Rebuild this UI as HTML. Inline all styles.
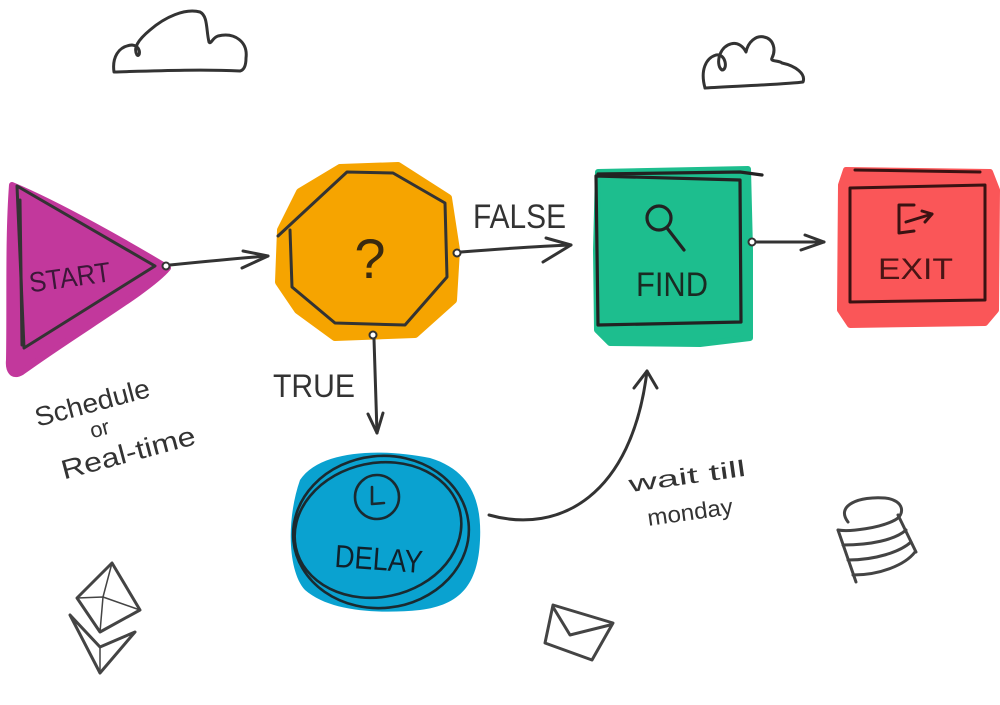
<!DOCTYPE html>
<html><head><meta charset="utf-8"><style>
html,body{margin:0;padding:0;background:#fff;}
svg{display:block;}
text{font-family:"Liberation Sans Narrow","Liberation Sans",sans-serif;}
</style></head><body>
<svg width="1000" height="705" viewBox="0 0 1000 705" xmlns="http://www.w3.org/2000/svg">
<g fill="none" stroke="#333" stroke-width="3" stroke-linecap="round" stroke-linejoin="round">
  <!-- clouds -->
  <path d="M114,72 C112,58 118,46 132,45 C142,46 140,58 137,55 C133,48 138,40 150,30 C165,17 185,8 200,12 C208,16 206,30 209,42 C211,45 212,38 218,36 C235,32 248,42 246,58 C246,66 244,70 240,71 C200,69 150,71 114,72 Z"/>
  <path d="M705,88 C700,70 706,58 716,55 C726,53 728,70 722,70 C716,66 718,50 728,45 C738,40 744,48 746,52 C748,42 756,35 764,37 C774,39 776,50 772,58 C770,62 778,60 782,63 C796,66 806,74 803,82 C790,84 740,86 705,88"/>
</g>

<!-- START fill -->
<path d="M12,185 C60,205 130,245 168,268 C150,290 80,330 22,372 C12,378 8,370 9,360 C10,300 8,240 12,185 Z" fill="#c2389c" stroke="#c2389c" stroke-width="6" stroke-linejoin="round"/>
<g fill="none" stroke="#333" stroke-width="3" stroke-linecap="round" stroke-linejoin="round">
  <path d="M17,186 L155,266 L24,348 Z"/>
  <path d="M20,200 L22,345"/>
</g>
<text x="28" y="287" font-size="28" fill="#3c1738" textLength="82" lengthAdjust="spacingAndGlyphs" transform="rotate(-8 68 272)">START</text>

<!-- connector start -> octagon -->
<g fill="none" stroke="#333" stroke-width="3" stroke-linecap="round" stroke-linejoin="round">
  <circle cx="166" cy="266" r="3.5" fill="#fff" stroke-width="2"/>
  <path d="M170,265 C200,262 240,258 268,256"/>
  <path d="M243,251 L268,256 L242,268"/>
</g>

<!-- octagon fill -->
<path d="M340,168 L398,166 L448,198 L456,250 L453,300 L415,334 L335,337 L298,310 L279,282 L281,230 L300,192 Z" fill="#f6a400" stroke="#f6a400" stroke-width="8" stroke-linejoin="round"/>
<g fill="none" stroke="#333" stroke-width="3" stroke-linecap="round" stroke-linejoin="round">
  <path d="M278,236 L347,172 L393,173 L445,203 L447,277 L405,325 L335,323 L292,287 L290,230"/>
</g>
<text x="370" y="278" font-size="56" fill="#3a2a10" text-anchor="middle" font-family="Liberation Sans, sans-serif">?</text>

<!-- FALSE connector -->
<g fill="none" stroke="#333" stroke-width="3" stroke-linecap="round" stroke-linejoin="round">
  <circle cx="457" cy="253" r="3.5" fill="#fff" stroke-width="2"/>
  <path d="M461,252 C500,249 540,246 571,245"/>
  <path d="M546,238 L571,245 L543,262"/>
</g>
<text x="473" y="228" font-size="34" fill="#333" textLength="93" lengthAdjust="spacingAndGlyphs">FALSE</text>

<!-- TRUE connector -->
<g fill="none" stroke="#333" stroke-width="3" stroke-linecap="round" stroke-linejoin="round">
  <circle cx="373" cy="335" r="3.5" fill="#fff" stroke-width="2"/>
  <path d="M374,339 L377,433"/>
  <path d="M368,414 L377,433 L383,413"/>
</g>
<text x="273" y="397" font-size="32" fill="#333" textLength="82" lengthAdjust="spacingAndGlyphs">TRUE</text>

<!-- FIND -->
<path d="M598,172 L748,169 L750,250 L750,338 L700,344 L610,343 L597,330 L596,250 Z" fill="#1dbe8e" stroke="#1dbe8e" stroke-width="6" stroke-linejoin="round"/>
<g fill="none" stroke="#222" stroke-width="3.2" stroke-linecap="round" stroke-linejoin="round">
  <path d="M596,176 L740,180 L741,322 L598,325 Z"/>
  <path d="M598,174 L740,172 L762,175"/>
  <circle cx="659" cy="218" r="12"/>
  <path d="M667,228 L684,250"/>
</g>
<text x="636" y="296" font-size="34" fill="#1a2a22" textLength="72" lengthAdjust="spacingAndGlyphs">FIND</text>

<!-- FIND -> EXIT -->
<g fill="none" stroke="#333" stroke-width="3" stroke-linecap="round" stroke-linejoin="round">
  <circle cx="752" cy="242" r="3.5" fill="#fff" stroke-width="2"/>
  <path d="M756,242 L824,242"/>
  <path d="M805,235 L824,242 L801,250"/>
</g>

<!-- EXIT -->
<path d="M846,170 L990,172 L997,190 L996,310 L985,323 L850,325 L840,310 L841,185 Z" fill="#fa5658" stroke="#fa5658" stroke-width="6" stroke-linejoin="round"/>
<g fill="none" stroke="#3a1212" stroke-width="3" stroke-linecap="round" stroke-linejoin="round">
  <path d="M855,170 L980,172"/>
  <path d="M850,188 L985,185 L985,300 L850,302 Z"/>
  <path d="M914,205 L899,205 L899,233 L914,231"/>
  <path d="M906,222 L932,214"/>
  <path d="M922,211 L932,214 L925,222"/>
</g>
<text x="878" y="279" font-size="30" fill="#4a1515" textLength="75" lengthAdjust="spacingAndGlyphs">EXIT</text>

<!-- DELAY -->
<path d="M300,480 C320,450 380,448 430,458 C470,470 482,500 480,540 C478,585 460,605 420,610 C380,614 330,612 305,590 C288,572 286,520 300,480 Z" fill="#0aa2d0"/>
<g fill="none" stroke="#1a2a30" stroke-width="2.6" stroke-linecap="round" stroke-linejoin="round">
  <ellipse cx="381" cy="532" rx="88" ry="76" transform="rotate(-6 381 532)"/>
  <ellipse cx="378" cy="530" rx="84" ry="67" transform="rotate(-12 378 530)"/>
  <circle cx="377" cy="497" r="22"/>
  <path d="M372,487 L372,504 L384,503"/>
</g>
<text x="335" y="570" font-size="32" fill="#10202a" textLength="88" lengthAdjust="spacingAndGlyphs" transform="rotate(4 379 556)">DELAY</text>

<!-- curve DELAY -> FIND -->
<g fill="none" stroke="#333" stroke-width="3" stroke-linecap="round" stroke-linejoin="round">
  <path d="M489,515 C560,535 632,495 647,371"/>
  <path d="M634,388 L647,371 L657,388"/>
</g>
<text x="687" y="484" font-size="23" fill="#333" text-anchor="middle" textLength="118" lengthAdjust="spacingAndGlyphs" transform="rotate(-8 687 475)">wait till</text>
<text x="690" y="520" font-size="23" fill="#333" text-anchor="middle" textLength="86" lengthAdjust="spacingAndGlyphs" transform="rotate(-8 690 512)">monday</text>

<!-- Schedule text -->
<text x="92" y="412" font-size="27" fill="#333" text-anchor="middle" textLength="118" lengthAdjust="spacingAndGlyphs" transform="rotate(-15 92 402)">Schedule</text>
<text x="100" y="436" font-size="22" fill="#333" text-anchor="middle" transform="rotate(-15 100 430)">or</text>
<text x="128" y="462" font-size="27" fill="#333" text-anchor="middle" textLength="138" lengthAdjust="spacingAndGlyphs" transform="rotate(-15 128 452)">Real-time</text>

<!-- decorative icons -->
<g fill="none" stroke="#444" stroke-width="3" stroke-linecap="round" stroke-linejoin="round">
  <!-- ethereum -->
  <path d="M112,563 L77,598 L100,632 L140,610 Z"/>
  <path d="M112,563 L103,597 L100,632" stroke-width="1.5"/>
  <path d="M77,598 L103,597 L140,610" stroke-width="1.5"/>
  <path d="M70,615 L100,673 L135,632 L100,647 Z"/>
  <path d="M100,647 L100,673" stroke-width="1.5"/>
  <!-- envelope -->
  <path d="M553,605 L613,623 L592,660 L545,643 Z"/>
  <path d="M553,607 L570,635 L610,625"/>
  <!-- database -->
  <path d="M848,522 C835,505 860,496 885,498 C905,500 905,515 895,520 C880,528 850,532 838,530"/>
  <path d="M838,530 L856,582"/>
  <path d="M898,515 L916,552"/>
  <path d="M843,545 C870,545 895,540 906,530"/>
  <path d="M848,560 C875,560 900,552 911,542"/>
  <path d="M853,575 C880,575 905,565 915,552"/>
</g>
</svg>
</body></html>
